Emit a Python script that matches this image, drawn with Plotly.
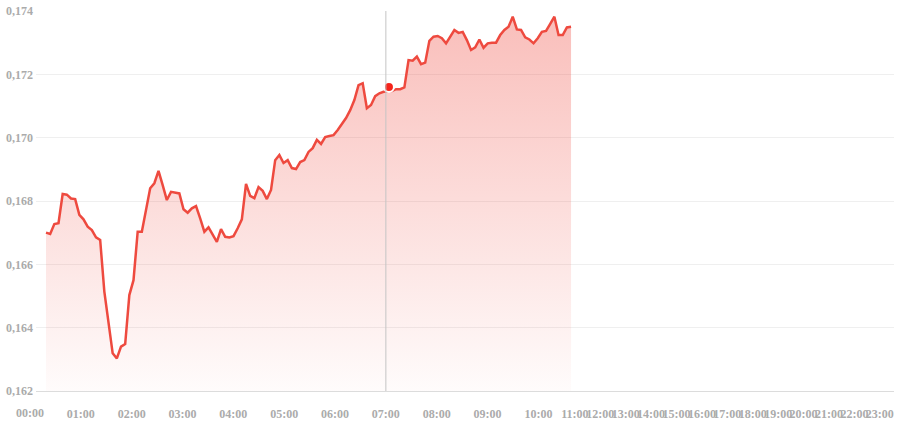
import plotly.graph_objects as go

# Price series (sampled roughly every 5 minutes from ~00:19 to ~10:38)
values = [
    0.16700, 0.16696, 0.16727, 0.16730, 0.16822, 0.16820, 0.16808, 0.16806, 0.16756, 0.16742,
    0.16719, 0.16708, 0.16685, 0.16677, 0.16514, 0.16424, 0.16319, 0.16303, 0.16340, 0.16348,
    0.16503, 0.16550, 0.16703, 0.16703, 0.16772, 0.16840, 0.16856, 0.16895, 0.16850, 0.16803,
    0.16829, 0.16827, 0.16824, 0.16774, 0.16763, 0.16777, 0.16784, 0.16745, 0.16703, 0.16717,
    0.16696, 0.16671, 0.16711, 0.16687, 0.16685, 0.16689, 0.16714, 0.16742, 0.16854, 0.16816,
    0.16809, 0.16844, 0.16832, 0.16806, 0.16835, 0.16929, 0.16945, 0.16920, 0.16929, 0.16904,
    0.16901, 0.16923, 0.16929, 0.16955, 0.16967, 0.16993, 0.16980, 0.17002, 0.17005, 0.17008,
    0.17024, 0.17043, 0.17062, 0.17087, 0.17119, 0.17166, 0.17172, 0.17093, 0.17103, 0.17131,
    0.17140, 0.17145, 0.17145, 0.17147, 0.17153, 0.17153, 0.17159, 0.17245, 0.17243, 0.17256,
    0.17232, 0.17237, 0.17306, 0.17319, 0.17321, 0.17314, 0.17298, 0.17317, 0.17340, 0.17331,
    0.17334, 0.17308, 0.17277, 0.17285, 0.17310, 0.17284, 0.17298, 0.17300, 0.17300, 0.17324,
    0.17340, 0.17350, 0.17382, 0.17342, 0.17340, 0.17317, 0.17310, 0.17298, 0.17314, 0.17334,
    0.17337, 0.17359, 0.17382, 0.17324, 0.17324, 0.17348, 0.17350,
]
hour_labels = ["%02d:00" % h for h in range(24)]
y_ticks = [0.162, 0.164, 0.166, 0.168, 0.170, 0.172, 0.174]
highlight_index = 82.3
highlight_value = 0.17160

LINE = "#ee4a3f"
TICK_COLOR = "#ababab"
X_RANGE = [-2.4, 203.5]


def hour_pos(h):
    # position of an hour label on the sample-index axis
    if h <= 10:
        return -3.84 + 12.2 * h
    return 126.9 + 6.1 * (h - 11)


x = list(range(len(values)))
tick_positions = [hour_pos(h) for h in range(24)]

fig = go.Figure()
fig.add_trace(go.Scatter(
    x=x, y=values, mode="lines",
    line=dict(color=LINE, width=2.5),
    fill="tozeroy",
    fillgradient=dict(
        type="vertical",
        start=0.162, stop=max(values),
        colorscale=[[0, "rgba(240,80,70,0.02)"], [1, "rgba(240,80,70,0.37)"]],
    ),
    hoverinfo="skip", showlegend=False,
))
fig.add_trace(go.Scatter(
    x=[highlight_index], y=[highlight_value], mode="markers",
    marker=dict(color="#f5241b", size=10, line=dict(color="white", width=2)),
    hoverinfo="skip", showlegend=False, cliponaxis=False,
))

fig.add_shape(type="line", xref="x", yref="paper",
              x0=hour_pos(7), x1=hour_pos(7), y0=0, y1=1,
              line=dict(color="#c4c4c4", width=1), layer="above")

tick_font = dict(family="Liberation Serif", size=12, color=TICK_COLOR, weight="bold")

# first hour label sits just left of the plotting area
first_paper_x = (hour_pos(0) - X_RANGE[0]) / (X_RANGE[1] - X_RANGE[0])
fig.add_annotation(x=first_paper_x, xref="paper", y=0, yref="paper",
                   xanchor="center", yanchor="top", yshift=-13,
                   text=hour_labels[0], showarrow=False, font=tick_font)

fig.update_layout(
    width=898, height=425,
    margin=dict(l=36, r=4, t=11, b=34),
    paper_bgcolor="white", plot_bgcolor="white",
    separators=",.",
    xaxis=dict(
        range=X_RANGE,
        tickmode="array", tickvals=tick_positions[1:], ticktext=hour_labels[1:],
        tickangle=0, tickfont=tick_font,
        showgrid=False, zeroline=False,
        showline=True, linecolor="#dcdcdc", linewidth=1,
        ticks="", ticklabelstandoff=12,
    ),
    yaxis=dict(
        range=[0.162, 0.174],
        tickmode="array", tickvals=y_ticks, tickformat=".3f",
        tickfont=tick_font,
        showgrid=True, gridcolor="#efefef", gridwidth=1,
        zeroline=False, showline=False, ticks="",
        ticklabelstandoff=2,
    ),
)

fig.write_html("out.html")
